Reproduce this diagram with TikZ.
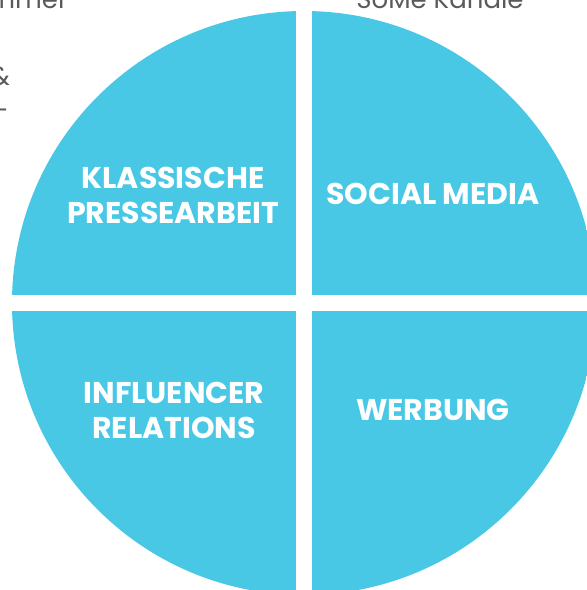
\documentclass[tikz,border=0pt]{standalone}
\usepackage{fontspec}
\setmainfont{Poppins}
\usepackage{xcolor}
\usepackage{tikz}

\definecolor{quadblue}{HTML}{48C8E5}
\definecolor{notegray}{HTML}{5A5A5A}

\tikzset{
    quadtext/.style={text=white, font=\fontsize{30}{35}\selectfont\bfseries, align=center, inner sep=0pt},
    notetext/.style={text=notegray, font=\fontsize{26}{30}\selectfont, inner sep=0pt}
}

\begin{document}
\begin{tikzpicture}[x=1pt,y=-1pt]
    \useasboundingbox (0,0) rectangle (587,590);
    \clip (0,0) rectangle (587,590);
    % Disc cut into four quarters by white gaps
    \begin{scope}
        \clip (304,303) circle (292pt);
        \foreach \sx/\sy in {-1/-1, 1/-1, -1/1, 1/1} {
            \fill[quadblue] (304+8*\sx,303+8*\sy) rectangle ++(300*\sx,300*\sy);
        }
    \end{scope}
    % Labels of the quarters
    \node[quadtext] (presse) at (173,195) {KLASSISCHE\\PRESSEARBEIT};
    \node[quadtext] (social) at (433,194) {SOCIAL MEDIA};
    \node[quadtext] (influencer) at (174,410) {INFLUENCER\\RELATIONS};
    \node[quadtext] (werbung) at (433,410) {WERBUNG};
    % Notes cut off at the page edge
    \node[notetext, anchor=base east] (immer) at (68,8) {mmer};
    \node[notetext, anchor=base east] (amp) at (10,85) {\&};
    \node[notetext, anchor=base east] (dash) at (9,119) {-};
    \node[notetext, anchor=base] (kanaele) at (440,8) {SoMe Kanäle};

\end{tikzpicture}
\end{document}
